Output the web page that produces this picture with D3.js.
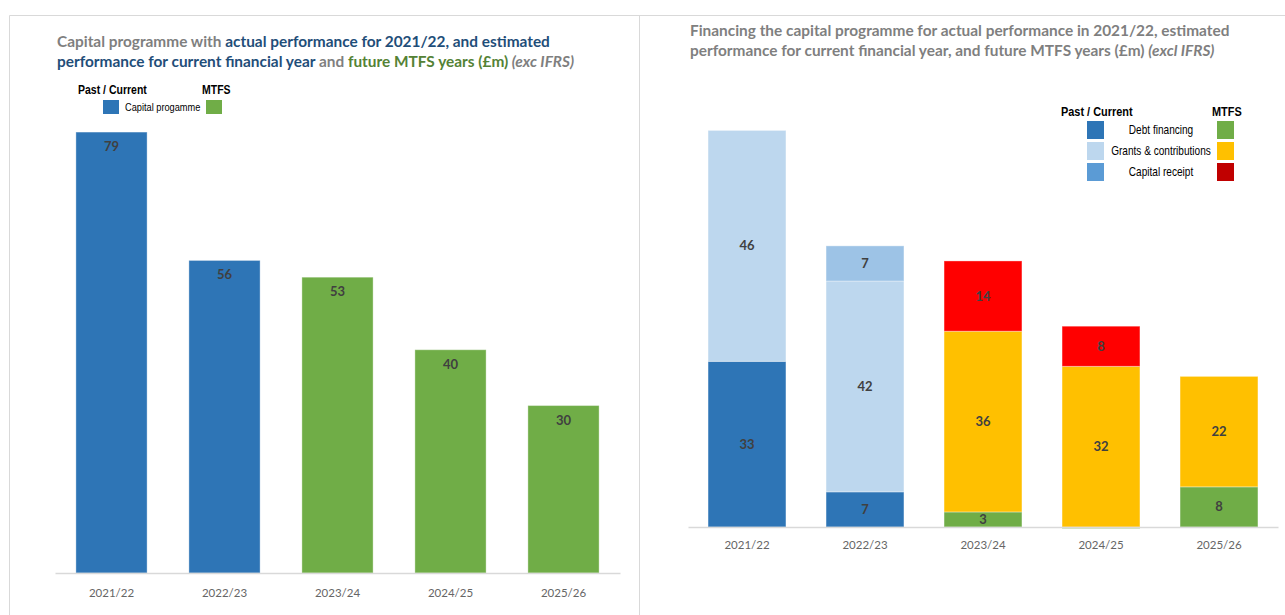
<!DOCTYPE html>
<html>
<head>
<meta charset="utf-8">
<script src="https://cdn.jsdelivr.net/npm/d3@7"></script>
<style>
  html, body { margin: 0; padding: 0; background: #fff; }
  .title { font-family: Lato, "Open Sans", sans-serif; font-weight: 700; font-size: 15.4px; }
  .narrow { font-family: "Liberation Sans", Arial, sans-serif; fill: #000; }
  .tick-lbl { font-family: Lato, "Open Sans", sans-serif; font-size: 11.5px; fill: #666; }
  .val { font-family: Lato, "Open Sans", sans-serif; font-size: 13px; font-weight: 700; fill: #404040; }
</style>
</head>
<body>
<div id="chart"></div>
<script>
const years = ["2021/22", "2022/23", "2023/24", "2024/25", "2025/26"];
const periods = ["past", "past", "mtfs", "mtfs", "mtfs"];
const capitalProgramme = [79, 56, 53, 40, 30];
const debtFinancing = [33, 7, 3, -0.3, 8];
const grantsContributions = [46, 42, 36, 32, 22];
const capitalReceipt = [0, 7, 14, 8, 0];
const financingKeys = ["debt", "grants", "receipt"];
const financingNames = ["Debt financing", "Grants & contributions", "Capital receipt"];

const width = 1285;
const height = 615;

const colors = {
  capital: { past: "#2e75b6", mtfs: "#70ad47" },
  debt: { past: "#2e75b6", mtfs: "#70ad47" },
  grants: { past: "#bdd7ee", mtfs: "#ffc000" },
  receipt: { past: "#9dc3e6", mtfs: "#ff0000" }
};
const legendColors = {
  debt: { past: "#2e75b6", mtfs: "#70ad47" },
  grants: { past: "#bdd7ee", mtfs: "#ffc000" },
  receipt: { past: "#5b9bd5", mtfs: "#c00000" }
};

const svg = d3.select("#chart").append("svg")
  .attr("width", width)
  .attr("height", height);

// condensed look for legend text (no narrow font installed)
function narrowText(g, x, y, str, size, bold, anchor) {
  return g.append("text")
    .attr("class", "narrow")
    .attr("transform", `translate(${x},${y}) scale(0.84,1)`)
    .attr("font-size", size)
    .attr("font-weight", bold ? 700 : 400)
    .attr("text-anchor", anchor || "start")
    .text(str);
}

// panel frame
svg.append("path")
  .attr("d", `M9.5,${height}V15.5H${width} M639.5,15.5V${height}`)
  .attr("fill", "none")
  .attr("stroke", "#d9d9d9");

// ---------- left chart ----------
const left = svg.append("g");

const t1 = left.append("text").attr("class", "title").attr("x", 57).attr("y", 47);
t1.append("tspan").attr("fill", "#7f7f7f").text("Capital programme with ");
t1.append("tspan").attr("fill", "#1f4e79").text("actual performance for 2021/22, and estimated");
const t2 = left.append("text").attr("class", "title").attr("x", 57).attr("y", 67);
t2.append("tspan").attr("fill", "#1f4e79").text("performance for current financial year");
t2.append("tspan").attr("fill", "#7f7f7f").text(" and ");
t2.append("tspan").attr("fill", "#548235").text("future MTFS years (£m)");
t2.append("tspan").attr("fill", "#7f7f7f").attr("font-style", "italic").text(" (exc IFRS)");

const xL = d3.scaleBand().domain(years).range([55, 620]).paddingInner(0.37).paddingOuter(0.185);
const yL = d3.scaleLinear().domain([0, 80]).range([573, 126.5]);

left.selectAll("rect.bar")
  .data(years.map((y, i) => ({ year: y, value: capitalProgramme[i], period: periods[i] })))
  .join("rect")
  .attr("class", "bar")
  .attr("x", d => xL(d.year))
  .attr("width", xL.bandwidth())
  .attr("y", d => yL(d.value))
  .attr("height", d => yL(0) - yL(d.value))
  .attr("fill", d => colors.capital[d.period])
  .attr("stroke", "rgba(255,255,255,0.35)");

left.selectAll("text.val")
  .data(years.map((y, i) => ({ year: y, value: capitalProgramme[i] })))
  .join("text")
  .attr("class", "val")
  .attr("x", d => xL(d.year) + xL.bandwidth() / 2)
  .attr("y", d => yL(d.value) + 19)
  .attr("text-anchor", "middle")
  .text(d => d.value);

const axL = left.append("g")
  .attr("transform", `translate(0,${yL(0)})`)
  .call(d3.axisBottom(xL).tickSize(0).tickPadding(16));
axL.select(".domain").attr("stroke", "#d9d9d9").attr("stroke-width", 1.5);
axL.selectAll(".tick text").attr("class", "tick-lbl").attr("font-family", null).attr("font-size", null);

// left legend
const lgL = left.append("g");
narrowText(lgL, 78, 94, "Past / Current", 12.5, true);
narrowText(lgL, 202, 94, "MTFS", 12.5, true);
lgL.append("rect").attr("x", 103).attr("y", 100).attr("width", 16).attr("height", 14).attr("fill", colors.capital.past);
lgL.append("rect").attr("x", 206).attr("y", 100).attr("width", 16).attr("height", 14).attr("fill", colors.capital.mtfs);
narrowText(lgL, 125, 111, "Capital progamme", 11, false);

// ---------- right chart ----------
const right = svg.append("g");

const r1 = right.append("text").attr("class", "title").attr("x", 690).attr("y", 36).attr("fill", "#7f7f7f");
r1.text("Financing the capital programme for actual performance in 2021/22, estimated");
const r2 = right.append("text").attr("class", "title").attr("x", 690).attr("y", 56).attr("fill", "#7f7f7f");
r2.append("tspan").text("performance for current financial year, and future MTFS years (£m) ");
r2.append("tspan").attr("font-style", "italic").text("(excl IFRS)");

const table = years.map((y, i) => ({
  year: y,
  period: periods[i],
  debt: debtFinancing[i],
  grants: grantsContributions[i],
  receipt: capitalReceipt[i]
}));

const stack = d3.stack().keys(financingKeys).offset(d3.stackOffsetDiverging);
const series = stack(table);

const xR = d3.scaleBand().domain(years).range([688, 1278]).paddingInner(0.34).paddingOuter(0.17);
const yR = d3.scaleLinear().domain([0, 80]).range([527, 125.4]);

const layers = right.selectAll("g.layer")
  .data(series)
  .join("g")
  .attr("class", "layer");

layers.selectAll("rect")
  .data(s => s.map(d => ({ key: s.key, d })))
  .join("rect")
  .attr("x", e => xR(e.d.data.year))
  .attr("width", xR.bandwidth())
  .attr("y", e => yR(Math.max(e.d[0], e.d[1])))
  .attr("height", e => Math.abs(yR(e.d[0]) - yR(e.d[1])))
  .attr("fill", e => colors[e.key][e.d.data.period])
  .attr("stroke", "rgba(255,255,255,0.35)")
  .attr("stroke-width", 1);

layers.selectAll("text")
  .data(s => s.map(d => ({ key: s.key, d })).filter(e => e.d.data[e.key] >= 1))
  .join("text")
  .attr("class", "val")
  .attr("x", e => xR(e.d.data.year) + xR.bandwidth() / 2)
  .attr("y", e => (yR(e.d[0]) + yR(e.d[1])) / 2)
  .attr("dy", "0.35em")
  .attr("text-anchor", "middle")
  .text(e => e.d.data[e.key]);

const axR = right.append("g")
  .attr("transform", `translate(0,${yR(0)})`)
  .call(d3.axisBottom(xR).tickSize(0).tickPadding(14));
axR.select(".domain").attr("stroke", "#d9d9d9").attr("stroke-width", 1.5);
axR.selectAll(".tick text").attr("class", "tick-lbl").attr("font-family", null).attr("font-size", null);

// right legend
const lgR = right.append("g");
narrowText(lgR, 1061, 116, "Past / Current", 13, true);
narrowText(lgR, 1212, 116, "MTFS", 13, true);
financingKeys.forEach((k, i) => {
  const y0 = 121 + i * 21;
  lgR.append("rect").attr("x", 1087).attr("y", y0).attr("width", 17).attr("height", 18).attr("fill", legendColors[k].past);
  lgR.append("rect").attr("x", 1217).attr("y", y0).attr("width", 17).attr("height", 18).attr("fill", legendColors[k].mtfs);
  narrowText(lgR, 1161, y0 + 13, financingNames[i], 12, false, "middle");
});
</script>
</body>
</html>
